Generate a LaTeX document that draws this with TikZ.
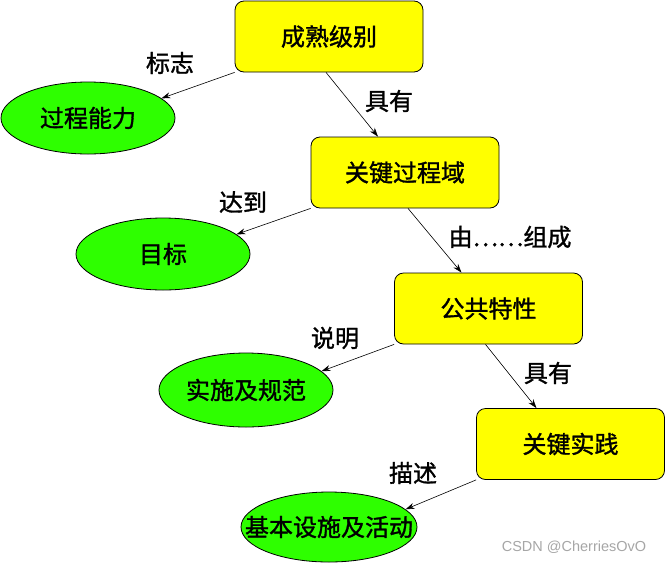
\documentclass[tikz,border=0pt]{standalone}
\usepackage{fontspec}
\setmainfont{Noto Sans CJK SC}[FakeBold=1.3]
\newfontfamily\wmfont{Liberation Sans}
\usetikzlibrary{arrows.meta,shapes.geometric}
\definecolor{boxyellow}{RGB}{255,255,0}
\definecolor{ellgreen}{RGB}{46,255,0}
\tikzset{
  txt/.style={font=\fontsize{24}{26}\selectfont},
  boxnode/.style={draw=black, line width=0.8pt, fill=boxyellow, rounded corners=9pt,
    minimum width=188pt, minimum height=71pt, inner sep=0pt, txt},
  ellnode/.style={draw=black, line width=0.8pt, fill=ellgreen, ellipse,
    minimum width=174pt, minimum height=72pt, inner sep=0pt, txt},
  lbl/.style={txt, inner sep=0pt},
  conn/.style={draw=black, line width=0.6pt, -{Stealth[length=9pt,width=6pt]}}
}
\begin{document}
\begin{tikzpicture}[x=1pt,y=-1pt]
\useasboundingbox (0,0) rectangle (666,563);
% boxes
\node[boxnode] (cj) at (329,36.5) {成熟级别};
\node[boxnode] (gj) at (405,172.5) {关键过程域};
\node[boxnode] (gg) at (488.5,308.5) {公共特性};
\node[boxnode] (sj) at (570.5,444) {关键实践};
% ellipses
\node[ellnode] (gn) at (88,118) {过程能力};
\node[ellnode] (mb) at (163,254) {目标};
\node[ellnode, minimum height=74pt] (ss) at (246,390) {实施及规范};
\node[ellnode, minimum height=70pt, minimum width=176pt] (jb) at (329,527) {\makebox[0pt]{基本设施及活动}};
% labels
\node[lbl] (l1) at (170,63) {标志};
\node[lbl] (l2) at (389,101) {具有};
\node[lbl] (l3) at (243,202) {达到};
\node[lbl] (l4) at (510,237) {由……组成};
\node[lbl] (l5) at (335,338) {说明};
\node[lbl] (l6) at (548,373) {具有};
\node[lbl] (l7) at (413,473) {描述};
% connectors
\draw[conn] (cj.south west) -- (gn.15);
\draw[conn] ([xshift=-3pt]cj.south) -- ([xshift=-27pt]gj.north);
\draw[conn] (gj.south west) -- (mb.15);
\draw[conn] ([xshift=3pt]gj.south) -- ([xshift=-27pt]gg.north);
\draw[conn] (gg.south west) -- (ss.14);
\draw[conn] ([xshift=-3pt]gg.south) -- ([xshift=-34pt]sj.north);
\draw[conn] (sj.south west) -- (jb.13);
% watermark
\node[font=\wmfont\fontsize{14.5}{15}\selectfont, text=black!35, inner sep=0pt] (wm) at (574,547) {CSDN @CherriesOvO};
\end{tikzpicture}
\end{document}
